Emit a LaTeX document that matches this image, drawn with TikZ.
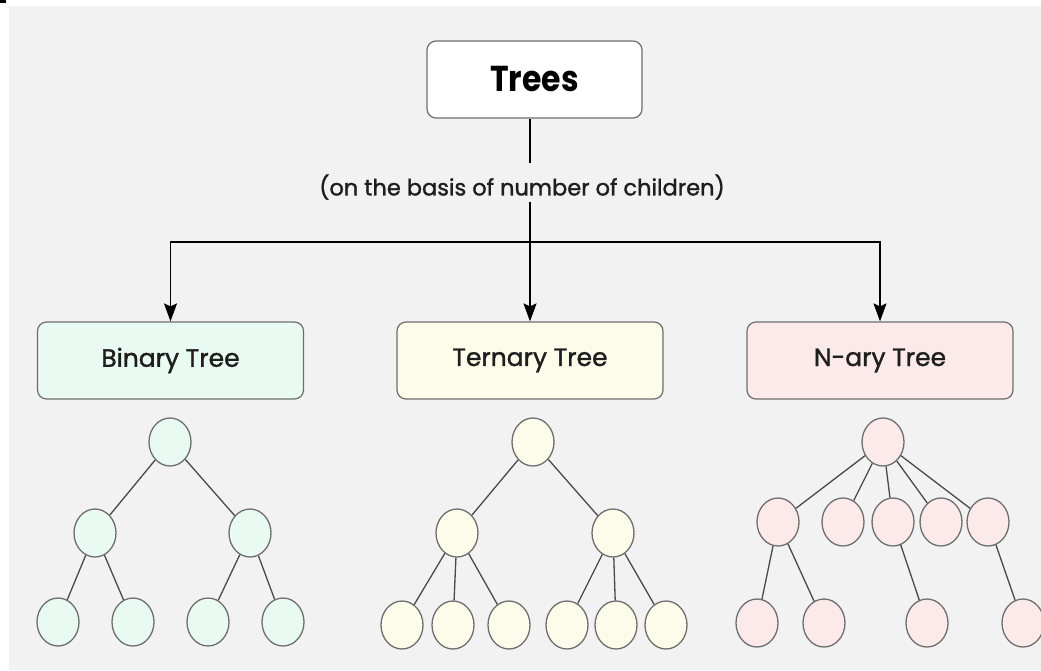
\documentclass[tikz,border=0pt]{standalone}
\usepackage{fontspec}
\setmainfont{Poppins}
\newfontfamily\heavier{Poppins}[FakeBold=1.3]
\usetikzlibrary{shapes.geometric,arrows.meta}
\definecolor{panel}{HTML}{F2F2F2}
\definecolor{edge}{HTML}{4A4A4A}
\definecolor{rim}{HTML}{6E6E6E}
\definecolor{ink}{HTML}{1E1E1E}
\definecolor{mint}{HTML}{E9FAF2}
\definecolor{cream}{HTML}{FDFCEA}
\definecolor{blush}{HTML}{FCEAEA}
\newcommand{\squash}[1]{\scalebox{0.875}[1]{#1}}
\tikzset{
  headbox/.style={draw=rim, line width=1.2pt, rounded corners=9pt, fill=white,
    minimum width=215pt, minimum height=77pt, font=\fontsize{36}{40}\selectfont\bfseries},
  kindbox/.style={draw=rim, line width=1.2pt, rounded corners=9pt, text=ink,
    minimum width=266pt, minimum height=77pt, font=\heavier\fontsize{25}{29}\selectfont},
  vert/.style={ellipse, draw=rim, line width=1.3pt, minimum width=42pt, minimum height=48pt, inner sep=0pt},
  link/.style={draw=edge, line width=1.3pt},
  flow/.style={draw=black, line width=1.6pt},
  arrowflow/.style={flow, -{Stealth[length=18pt,width=13pt,inset=3pt]}}
}
\begin{document}
\begin{tikzpicture}[x=1pt, y=-1pt]
  \useasboundingbox (0,0) rectangle (1041,670);
  \clip (0,0) rectangle (1041,670);
  \fill[white] (0,0) rectangle (1041,670);
  \fill[panel] (9,6) rectangle (1041,670);
  \fill[black] (0,0) rectangle (6,3);

  % heading and the three kinds of trees
  \node[headbox] (trees) at (534.5,79.5) {\squash{Trees}};
  \node[font=\heavier\fontsize{22.5}{26}\selectfont, text=ink, inner sep=2pt, fill=panel] (basis) at (522,187) {(on the basis of number of children)};
  \node[kindbox, fill=mint]  (binary)  at (170.5,360.5) {Binary Tree};
  \node[kindbox, fill=cream] (ternary) at (530,360.5)   {Ternary Tree};
  \node[kindbox, fill=blush] (nary)    at (880,360.5)   {N-ary Tree};
  \coordinate (split) at (530,242);
  \coordinate (stem) at (530,163);

  \draw[flow] (trees.south -| split) -- (stem);
  \draw[flow] (split |- basis.south) -- (split);
  \draw[arrowflow] (split) -| (binary.north);
  \draw[arrowflow] (split) -- (ternary.north);
  \draw[arrowflow] (split) -| (nary.north);

  % binary tree
  \begin{scope}[every node/.style={vert, fill=mint}]
    \node (b0) at (170,442) {};
    \node (b1) at (95,533) {};
    \node (b2) at (250,533) {};
    \node (b3) at (58,622) {};
    \node (b4) at (133,622) {};
    \node (b5) at (208,622) {};
    \node (b6) at (283,622) {};
  \end{scope}
  \draw[link] (b0) -- (b1) (b0) -- (b2)
              (b1) -- (b3) (b1) -- (b4)
              (b2) -- (b5) (b2) -- (b6);

  % ternary tree
  \begin{scope}[every node/.style={vert, fill=cream}]
    \node (t0) at (533,442) {};
    \node (t1) at (457,533) {};
    \node (t2) at (613,533) {};
    \node (t3) at (402,625) {};
    \node (t4) at (453,625) {};
    \node (t5) at (509,625) {};
    \node (t6) at (567,625) {};
    \node (t7) at (616,625) {};
    \node (t8) at (666,625) {};
  \end{scope}
  \draw[link] (t0) -- (t1) (t0) -- (t2)
              (t1) -- (t3) (t1) -- (t4) (t1) -- (t5)
              (t2) -- (t6) (t2) -- (t7) (t2) -- (t8);

  % n-ary tree
  \begin{scope}[every node/.style={vert, fill=blush}]
    \node (n0) at (883,442) {};
    \node (n1) at (778,522) {};
    \node (n2) at (843,522) {};
    \node (n3) at (893,522) {};
    \node (n4) at (941,522) {};
    \node (n5) at (988,522) {};
    \node (n6) at (757,623) {};
    \node (n7) at (824,623) {};
    \node (n8) at (927,623) {};
    \node (n9) at (1023,623) {};
  \end{scope}
  \draw[link] (n0) -- (n1) (n0) -- (n2) (n0) -- (n3) (n0) -- (n4) (n0) -- (n5)
              (n1) -- (n6) (n1) -- (n7)
              (n3) -- (n8) (n5) -- (n9);
\end{tikzpicture}
\end{document}
